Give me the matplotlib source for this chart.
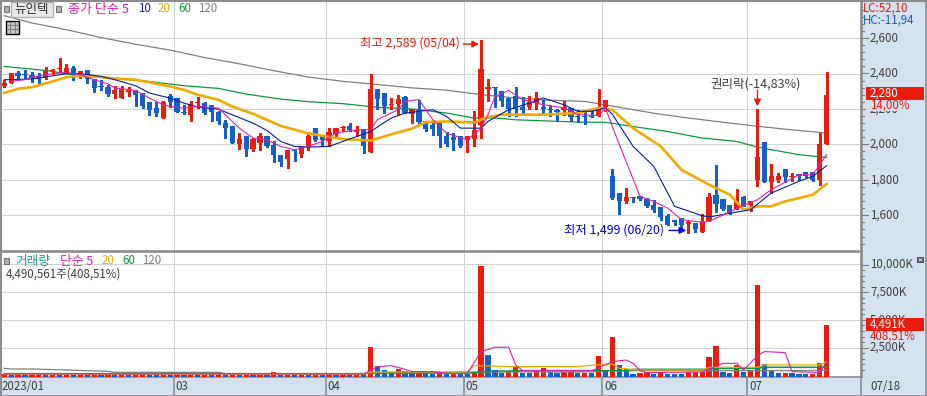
import matplotlib
matplotlib.use('Agg')
import numpy as np
import matplotlib.pyplot as plt
from matplotlib.patches import Rectangle

plt.rcParams['font.family'] = ['Noto Sans CJK KR', 'DejaVu Sans']

# daily candles (120 days)
opens = [2329,2344,2404,2393,2393,2385,2376,2414,2425,2404,2429,2402,2419,2370,2331,2325,2286,2260,2295,2301,
         2286,2241,2207,2147,2275,2263,2182,2164,2235,2233,2224,2181,2122,2102,2004,2049,1972,2006,2049,1998,
         1942,1919,1970,1944,1983,2094,2049,2021,2060,2092,2106,2070,2087,1958,2315,2292,2221,2226,2268,2170,
         2196,2132,2111,2128,2049,2043,2049,2024,2028,2111,2311,2326,2300,2264,2275,2209,2213,2232,2209,2202,
         2192,2192,2207,2162,2156,2158,2168,2211,1823,1728,1683,1705,1709,1692,1660,1649,1598,1576,1585,1549,
         1557,1508,1566,1716,1694,1660,1638,1705,1658,1797,2015,1790,1801,1861,1814,1835,1844,1844,1797,2000]
highs = [2365,2404,2412,2421,2410,2404,2436,2427,2489,2455,2444,2417,2419,2370,2365,2337,2327,2331,2323,2308,
         2290,2241,2241,2244,2286,2263,2224,2244,2267,2237,2224,2186,2139,2102,2064,2049,2036,2064,2049,2017,
         1942,1970,1970,1993,2072,2094,2049,2092,2094,2106,2123,2102,2087,2400,2315,2292,2262,2281,2275,2198,
         2253,2132,2132,2128,2068,2064,2049,2049,2190,2589,2370,2326,2300,2264,2326,2268,2272,2298,2253,2224,
         2200,2245,2207,2196,2196,2192,2315,2253,1863,1728,1756,1705,1709,1696,1688,1649,1609,1576,1585,1568,
         1557,1609,1726,1885,1694,1660,1750,1711,1683,2199,2015,1891,1838,1861,1838,1835,1844,1844,2064,2406]
lows = [2323,2344,2369,2374,2350,2342,2369,2399,2406,2404,2365,2376,2346,2293,2308,2271,2260,2260,2271,2214,
        2205,2167,2158,2147,2211,2181,2169,2130,2205,2173,2135,2113,2038,2006,1976,1932,1961,1970,1983,1899,
        1876,1865,1904,1929,1970,2017,1998,1989,2039,2073,2077,2049,1949,1958,2202,2177,2200,2173,2177,2122,
        2111,2073,2055,1983,1992,1970,1985,1960,1994,2039,2245,2211,2215,2162,2162,2166,2200,2202,2168,2162,
        2132,2168,2130,2128,2113,2155,2158,2187,1694,1609,1669,1677,1688,1649,1617,1572,1544,1544,1519,1499,
        1508,1504,1566,1617,1632,1609,1638,1651,1626,1767,1786,1726,1786,1786,1792,1797,1816,1792,1773,2000]
closes = [2348,2404,2387,2389,2376,2369,2417,2419,2431,2432,2402,2412,2369,2316,2322,2286,2308,2314,2306,2280,
          2218,2196,2179,2241,2237,2181,2178,2228,2239,2179,2181,2135,2094,2006,2032,1972,2028,2049,1994,1938,
          1899,1970,1962,1993,2049,2024,2026,2072,2094,2100,2081,2079,1994,2315,2258,2219,2230,2258,2179,2198,
          2128,2089,2089,2045,2002,2023,1992,2049,2083,2423,2326,2319,2243,2202,2202,2192,2241,2264,2202,2192,
          2183,2213,2153,2155,2153,2155,2207,2253,1700,1683,1705,1696,1690,1654,1632,1592,1547,1562,1547,1561,
          1525,1570,1705,1666,1638,1615,1683,1654,1683,1930,1790,1823,1823,1814,1823,1823,1820,1801,2002,2280]

# moving averages, read at the day numbers next to them
ma5_days = [1,3,4,7,9,11,13,15,16,19,21,23,24,26,28,31,32,34,36,38,40,42,44,46,48,51,53,54,57,58,60,62,64,67,69,70,71,73,75,78,81,83,86,87,88,89,92,94,96,98,101,102,107,109,111,115,117,119]
ma5 = [2357,2365,2380,2399,2406,2393,2365,2342,2318,2305,2261,2224,2214,2205,2214,2205,2167,2092,2036,2026,1989,1970,1989,2017,2064,2083,2083,2140,2196,2243,2253,2140,2064,2026,2092,2168,2272,2304,2253,2224,2206,2168,2162,2206,2101,2000,1707,1679,1641,1576,1561,1566,1656,1688,1745,1829,1829,1942]
ma10_days = [0,4,7,9,11,14,16,19,21,24,26,28,31,33,36,38,40,42,44,47,49,53,56,58,60,62,64,66,69,70,73,76,78,81,83,85,87,88,91,94,97,101,102,108,111,115,117,119]
ma10 = [2365,2369,2387,2399,2399,2384,2365,2331,2290,2261,2233,2211,2199,2167,2120,2079,2017,1989,1985,1989,2017,2073,2149,2177,2187,2196,2158,2092,2092,2130,2196,2234,2262,2224,2187,2187,2206,2170,1989,1876,1651,1598,1591,1632,1726,1792,1820,1880]
ma20_days = [0,2,4,7,9,11,14,16,19,21,24,26,28,31,33,36,38,40,44,49,53,57,59,61,64,68,70,72,78,83,86,88,91,95,98,102,105,107,109,111,113,117,119]
ma20 = [2290,2314,2323,2355,2380,2387,2380,2372,2365,2350,2327,2308,2280,2252,2214,2173,2139,2105,2062,2030,2022,2068,2089,2126,2130,2124,2155,2168,2168,2177,2206,2195,2092,1989,1857,1773,1716,1632,1651,1651,1679,1716,1777]
ma60_days = [0,6,11,16,21,26,31,35,40,44,49,54,59,64,68,71,74,83,87,91,96,101,106,109,115,119]
ma60 = [2440,2417,2387,2372,2355,2331,2316,2284,2256,2241,2230,2209,2200,2177,2149,2149,2139,2126,2125,2101,2073,2036,2017,1985,1942,1927]
ma120_days = [0,4,9,14,19,24,29,34,39,44,49,54,59,64,69,74,79,84,87,94,98,103,108,113,119]
ma120 = [2726,2685,2647,2603,2565,2532,2490,2455,2416,2380,2356,2338,2319,2306,2281,2262,2249,2243,2223,2176,2154,2130,2107,2086,2064]

# volume in thousands of shares
volumes = [120,110,125,100,115,130,105,120,100,125,110,130,115,135,105,120,100,125,110,130,
           240,220,110,125,100,120,110,240,100,120,105,125,110,130,100,120,105,125,110,300,
           100,120,105,125,100,115,105,130,110,125,100,120,110,2560,843,480,240,570,420,200,
           330,180,130,170,130,160,120,100,330,9810,1836,480,240,270,780,240,230,420,690,270,
           240,270,280,240,250,240,1745,480,3460,930,540,120,240,260,120,330,150,120,90,330,
           335,340,1650,2650,330,210,930,330,420,8150,1020,390,180,190,180,120,110,125,1110,4491]
vol5_days = [0,52,54,56,58,59,62,65,67,69,71,73,74,75,85,88,90,91,92,93,101,104,106,107,109,110,113,114,118,119]
vol5 = [120,120,780,870,540,330,330,120,180,2136,2530,2530,930,420,420,1230,1380,1080,420,240,300,1080,1080,480,1745,2136,2050,330,240,1230]
vol20_days = [0,52,53,67,68,73,83,85,88,89,92,101,102,109,110,118,119]
vol20 = [90,90,300,300,870,780,780,900,1020,630,480,480,720,720,930,930,1230]
vol60_days = [0,52,53,68,69,75,90,91,102,103,109,110,119]
vol60 = [150,150,210,210,330,420,420,540,540,630,630,720,720]
vol120_days = [0,1,4,9,15,16,31,32,52,67,85,87,118,119]
vol120 = [630,570,570,480,360,270,270,150,150,300,300,420,420,480]

price_ticks = [1600,1800,2000,2200,2400,2600]
price_labels = ['1,600','1,800','2,000','2,200','2,400','2,600']
vol_ticks = [2500,5000,7500,10000]
vol_labels = ['2,500K','5,000K','7,500K','10,000K']
month_pos = [24.5,46.5,66.5,86.5,107.5]
month_labels = ['03','04','05','06','07']

RED = '#EC1C0C'
BLUE = '#1560C8'
ORANGE = '#F0AA00'
GREEN = '#0A9A3C'
GRAY = '#808080'
NAVY = '#0A1E9E'
MAGENTA = '#E020B0'
TEAL = '#2E9A9A'
BAND = '#D6E1EF'
EDGE = '#8C8C8C'
GRID = '#D2D2D2'
TXT = '#404040'

W, H = 927, 396
fig = plt.figure(figsize=(W/100, H/100), dpi=100)
fig.patch.set_facecolor(BAND)

def box(x0, y0, x1, y1):
    return [x0/W, (H-y1)/H, (x1-x0)/W, (y1-y0)/H]

days = np.arange(len(closes))
x_lo = (1-4.3)/6.91
x_hi = (861.5-4.3)/6.91

#price panel
ax = fig.add_axes(box(1, 1, 861.5, 251))
ax.set_xlim(x_lo, x_hi)
ax.set_ylim(1399, 2809)
ax.set_yticks(price_ticks)
ax.set_xticks(month_pos)
ax.grid(True, color=GRID, linewidth=0.72, antialiased=False)
ax.set_axisbelow(True)
ax.tick_params(length=0, labelleft=False, labelbottom=False)

ax.plot(ma120_days, ma120, color=GRAY, lw=0.9, zorder=2)
ax.plot(ma60_days, ma60, color=GREEN, lw=0.9, zorder=2)

o = np.array(opens)
c = np.array(closes)
cols = [RED if c[i] > o[i] else BLUE for i in days]
ax.vlines(days, lows, highs, colors=cols, lw=0.75, antialiased=False, zorder=3)
ax.bar(days, np.maximum(np.abs(c-o), 6), bottom=np.minimum(o, c), width=0.76, color=cols, antialiased=False, zorder=3)

ax.plot(ma20_days, ma20, color=ORANGE, lw=1.9, zorder=4)
ax.plot(ma10_days, ma10, color=NAVY, lw=0.8, zorder=5)
ax.plot(ma5_days, ma5, color=MAGENTA, lw=0.8, zorder=5)

# notes on the price panel
ax.text(65.9, 2570, '최고 2,589 (05/04)', color=RED, fontsize=8.9, ha='right', va='center')
ax.annotate('', xy=(68.7, 2566), xytext=(66.4, 2566), arrowprops=dict(arrowstyle='-|>', color=RED, lw=1, shrinkA=0, shrinkB=0))
ax.text(95.5, 1515, '최저 1,499 (06/20)', color='#0000E0', fontsize=8.9, ha='right', va='center')
ax.annotate('', xy=(98.7, 1515), xytext=(96.2, 1515), arrowprops=dict(arrowstyle='-|>', color='#0000E0', lw=1, shrinkA=0, shrinkB=0))
ax.text(108.8, 2340, '권리락(-14,83%)', color=TXT, fontsize=9, ha='center', va='center')
ax.annotate('', xy=(109, 2215), xytext=(109, 2308), arrowprops=dict(arrowstyle='-|>', color=RED, lw=1, shrinkA=0, shrinkB=0))

#volume panel
vol_floor = -153
ax2 = fig.add_axes(box(1, 252, 861.5, 377))
ax2.set_xlim(x_lo, x_hi)
ax2.set_ylim(vol_floor, 11110)
ax2.set_yticks(vol_ticks)
ax2.set_xticks(month_pos)
ax2.grid(True, color=GRID, linewidth=0.72, antialiased=False)
ax2.set_axisbelow(True)
ax2.tick_params(length=0, labelleft=False, labelbottom=False)

vol_cols = [RED if i == 0 or volumes[i] >= volumes[i-1] else BLUE for i in days]
ax2.bar(days, np.array(volumes)-vol_floor, bottom=vol_floor, width=0.76, color=vol_cols, antialiased=False, zorder=3)
ax2.plot(vol120_days, vol120, color=GRAY, lw=0.9, zorder=4)
ax2.plot(vol60_days, vol60, color=GREEN, lw=1.1, zorder=4)
ax2.plot(vol20_days, vol20, color=ORANGE, lw=0.9, zorder=4)
ax2.plot(vol5_days, vol5, color=MAGENTA, lw=0.8, zorder=5)

for a in (ax, ax2):
    for s in a.spines.values():
        s.set_color(EDGE)
        s.set_linewidth(1.2)

# overlay in image pixels for the chart furniture
ov = fig.add_axes([0, 0, 1, 1], facecolor='none')
ov.set_xlim(0, W)
ov.set_ylim(H, 0)
ov.axis('off')

def label(x, y, s, color=TXT, size=8.3, ha='left'):
    ov.text(x, y, s, color=color, fontsize=size, ha=ha, va='center')

def legend_row(y, items):
    for x, s, col, size in items:
        label(x, y, s, col, size)

def square(x, y):
    ov.add_patch(Rectangle((x, y), 5, 6, fc='#B0B0B0', ec='#707070', lw=0.8))

# outer frame
ov.plot([0.5, 0.5, W], [H, 0.5, 0.5], color=EDGE, lw=1.5)
ov.plot([0, W], [H-0.5, H-0.5], color=EDGE, lw=1.2)
ov.plot([W-0.5, W-0.5], [0, H], color=EDGE, lw=1.2)
ov.plot([861.5, 861.5], [0, H], color=EDGE, lw=1.2)
for pos in month_pos:
    xp = 4.3 + 6.91*pos
    ov.plot([xp, xp], [377, H], color=EDGE, lw=1.2)

# legend of the price panel
square(4, 6)
ov.add_patch(Rectangle((11, 2), 42, 15, fc='#E8E8E8', ec='#B4B4B4', lw=1))
label(32, 9, '뉴인텍', '#303030', 9, ha='center')
square(56, 6)
legend_row(9, [(68, '종가 단순 5', MAGENTA, 9.4), (138, '10', NAVY, 8.3), (158, '20', ORANGE, 8.3), (178, '60', GREEN, 8.3), (198, '120', GRAY, 8.3)])

# small table button
ov.add_patch(Rectangle((6.5, 20.5), 13, 13, fc='#C8C8C8', ec='black', lw=1))
for xl in (10.5, 15.5):
    ov.plot([xl, xl], [22, 32], color='#808080', lw=0.8)
for yl in (24.5, 28.5):
    ov.plot([8, 18], [yl, yl], color='#808080', lw=0.8)

# legend of the volume panel
square(4, 258)
legend_row(261, [(15, '거래량', TEAL, 9.2), (60, '단순 5', MAGENTA, 9.2), (102, '20', ORANGE, 8.3), (122, '60', GREEN, 8.3), (142, '120', GRAY, 8.3)])
label(6, 274, '4,490,561주(408,51%)')

# price scale
label(863, 8, 'LC:52,10', RED)
label(863, 20, 'HC:-11,94', BLUE)
to_y = lambda v: 38 + (2600-v)*35.45/200
for v in np.arange(1440, 2800, 40):
    yp = to_y(v)
    major = v in price_ticks
    ov.plot([862, 868 if major else 864.5], [yp, yp], color='#808080', lw=0.8)
for v, s in zip(price_ticks, price_labels):
    label(870, to_y(v), s)
ov.add_patch(Rectangle((866, 100), 58, 10.5, fc=BAND, ec='none', zorder=5))
ov.add_patch(Rectangle((866, 87), 58, 13, fc=RED, ec='none', zorder=6))
ov.text(870, 93.5, '2,280', color='white', fontsize=8.3, va='center', zorder=7)
ov.text(870, 105, '14,00%', color=RED, fontsize=8.3, va='center', zorder=7)

# volume scale
to_yv = lambda v: 375.3 - v*27.7/2500
for v in np.arange(500, 10500, 500):
    yp = to_yv(v)
    major = v in vol_ticks
    ov.plot([862, 868 if major else 864.5], [yp, yp], color='#808080', lw=0.8)
for v, s in zip(vol_ticks, vol_labels):
    label(870, to_yv(v), s)
ov.add_patch(Rectangle((866, 331), 58, 10, fc=BAND, ec='none', zorder=5))
ov.add_patch(Rectangle((866, 318), 58, 13, fc=RED, ec='none', zorder=6))
ov.text(870, 324.5, '4,491K', color='white', fontsize=8.3, va='center', zorder=7)
ov.text(870, 336, '408,51%', color=RED, fontsize=8.3, va='center', zorder=7)

# close button
ov.add_patch(Rectangle((917, 257), 7, 5.5, fc='#505050', ec='none'))
ov.plot([919, 922], [258.5, 261], color='white', lw=0.6)
ov.plot([919, 922], [261, 258.5], color='white', lw=0.6)

# date band
label(2, 387, '2023/01')
for pos, s in zip(month_pos, month_labels):
    label(4.3 + 6.91*pos + 2, 387, s)
label(870, 387, '07/18')

fig.savefig('out.png', dpi=100, facecolor=fig.get_facecolor())
